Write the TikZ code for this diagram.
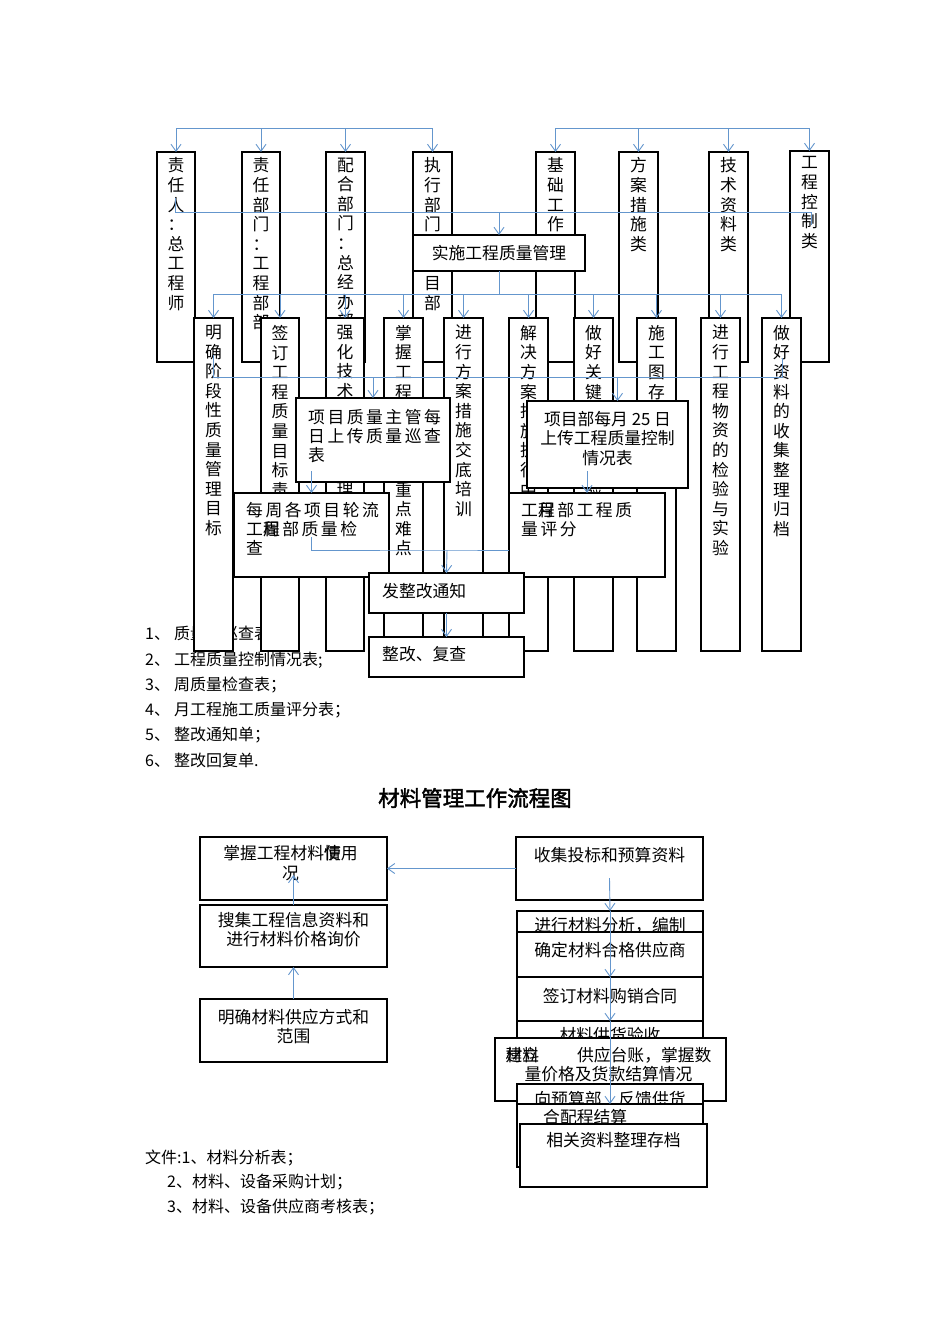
\documentclass[tikz,border=0pt]{standalone}
\usepackage{fontspec}
\setmainfont{Noto Sans CJK SC}
\newfontfamily\widefont[LetterSpace=15]{Noto Sans CJK SC}
\newfontfamily\titlefont[FakeBold=2]{Noto Sans CJK SC}
\usetikzlibrary{arrows.meta,positioning}
\definecolor{linkblue}{RGB}{100,150,205}

\begin{document}
\begin{tikzpicture}[x=1pt, y=-1pt,
  box/.style={draw, line width=1.5pt, fill=white, inner sep=0pt, outer sep=0pt, anchor=north west},
  vtext/.style={inner sep=0pt, align=center, anchor=north, font=\fontsize{16.8}{19.6}\selectfont},
  htext/.style={inner sep=0pt, font=\fontsize{16.8}{19.5}\selectfont},
  listtext/.style={inner sep=0pt, anchor=west, font=\fontsize{16}{19}\selectfont},
  wtext/.style={inner sep=0pt, align=left, anchor=north west, font=\widefont\fontsize{16.8}{18.8}\selectfont},
  link/.style={draw=linkblue, line width=0.9pt},
  linkarrow/.style={link, -{Straight Barb[length=7pt, width=10pt]}}]
  \path[fill=white, use as bounding box] (0,0) rectangle (950,1344);

  % document list of the quality chart
  \node[listtext] (doc1) at (145,634) {1、\kern4pt 质量日巡查表；};
  \node[listtext] (doc2) at (145,660) {2、\kern4pt 工程质量控制情况表;};
  \node[listtext] (doc3) at (145,685) {3、\kern4pt 周质量检查表；};
  \node[listtext] (doc4) at (145,710) {4、\kern4pt 月工程施工质量评分表；};
  \node[listtext] (doc5) at (145,735) {5、\kern4pt 整改通知单；};
  \node[listtext] (doc6) at (145,760) {6、\kern4pt 整改回复单.};

  % top row
  \node[box, minimum width=38pt, minimum height=210pt] (zrr) at (157,152) {};
  \node[box, minimum width=38pt, minimum height=210pt] (zrbm) at (242,152) {};
  \node[box, minimum width=39pt, minimum height=210pt] (phbm) at (326,152) {};
  \node[box, minimum width=39pt, minimum height=210pt] (zxbm) at (413,152) {};
  \node[box, minimum width=39pt, minimum height=210pt] (jcgz) at (536,152) {};
  \node[box, minimum width=39pt, minimum height=210pt] (facs) at (619,152) {};
  \node[box, minimum width=39pt, minimum height=210pt] (jszl) at (709,152) {};
  \node[box, minimum width=39pt, minimum height=211pt] (gckz) at (790,151) {};
  \node[vtext] (zrr-t) at ([yshift=-5.5pt]zrr.north) {责\\任\\人\\：\\总\\工\\程\\师};
  \node[vtext] (zrbm-t) at ([yshift=-5.5pt]zrbm.north) {责\\任\\部\\门\\：\\工\\程\\部\\部};
  \node[vtext] (phbm-t) at ([yshift=-5.5pt]phbm.north) {配\\合\\部\\门\\：\\总\\经\\办\\部};
  \node[vtext] (zxbm-t) at ([yshift=-5.5pt]zxbm.north) {执\\行\\部\\门\\：\\项\\目\\部};
  \node[vtext] (jcgz-t) at ([yshift=-5.5pt]jcgz.north) {基\\础\\工\\作\\类};
  \node[vtext] (facs-t) at ([yshift=-5.5pt]facs.north) {方\\案\\措\\施\\类};
  \node[vtext] (jszl-t) at ([yshift=-5.5pt]jszl.north) {技\\术\\资\\料\\类};
  \node[vtext] (gckz-t) at ([yshift=-5.5pt]gckz.north) {工\\程\\控\\制\\类};

  \coordinate (topbus) at (0,128);
  \draw[link] (zrr.north |- topbus) -- (zxbm.north |- topbus);
  \draw[link] (jcgz.north |- topbus) -- (gckz.north |- topbus);
  \foreach \n in {zrr,zrbm,phbm,zxbm,jcgz,facs,jszl,gckz}
    \draw[linkarrow] (\n.north |- topbus) -- (\n.north);

  % middle bus and the central box
  \coordinate (midbus) at (0,212);
  \coordinate (midL) at (175,198);
  \coordinate (midR) at (811,225);
  \draw[link] (midL) |- (midR |- midbus) -- (midR);
  \node[box, minimum width=172pt, minimum height=36pt] (ss) at (413,235) {};
  \node[htext] (ss-t) at (ss.center) {实施工程质量管理};
  \draw[linkarrow] (ss.north |- midbus) -- (ss.north);

  % second row
  \node[box, minimum width=39pt, minimum height=333pt] (mqjd) at (194,318) {};
  \node[box, minimum width=38pt, minimum height=333pt] (qdmb) at (261,318) {};
  \node[box, minimum width=38pt, minimum height=333pt] (qhjs) at (326,318) {};
  \node[box, minimum width=39pt, minimum height=333pt] (zwzd) at (384,318) {};
  \node[box, minimum width=39pt, minimum height=333pt] (fajd) at (444,318) {};
  \node[box, minimum width=39pt, minimum height=333pt] (jjfa) at (509,318) {};
  \node[box, minimum width=39pt, minimum height=333pt] (gjgx) at (574,318) {};
  \node[box, minimum width=39pt, minimum height=333pt] (sgtd) at (637,318) {};
  \node[box, minimum width=39pt, minimum height=333pt] (wzjy) at (701,318) {};
  \node[box, minimum width=39pt, minimum height=333pt] (zlgd) at (762,318) {};
  \node[vtext] (mqjd-t) at ([yshift=-7pt]mqjd.north) {明\\确\\阶\\段\\性\\质\\量\\管\\理\\目\\标};
  \node[vtext] (qdmb-t) at ([yshift=-7pt]qdmb.north) {签\\订\\工\\程\\质\\量\\目\\标\\责\\任\\书};
  \node[vtext] (qhjs-t) at ([yshift=-7pt]qhjs.north) {强\\化\\技\\术\\~\\~\\~\\管\\理};
  \node[vtext] (zwzd-t) at ([yshift=-7pt]zwzd.north) {掌\\握\\工\\程\\施\\工\\技\\术\\重\\点\\难\\点};
  \node[vtext] (fajd-t) at ([yshift=-7pt]fajd.north) {进\\行\\方\\案\\措\\施\\交\\底\\培\\训};
  \node[vtext] (jjfa-t) at ([yshift=-7pt]jjfa.north) {解\\决\\方\\案\\措\\施\\执\\行\\中\\的\\问\\题};
  \node[vtext] (gjgx-t) at ([yshift=-7pt]gjgx.north) {做\\好\\关\\键\\工\\序\\的\\检\\验};
  \node[vtext] (sgtd-t) at ([yshift=-7pt]sgtd.north) {施\\工\\图\\存\\档};
  \node[vtext] (wzjy-t) at ([yshift=-7pt]wzjy.north) {进\\行\\工\\程\\物\\资\\的\\检\\验\\与\\实\\验};
  \node[vtext] (zlgd-t) at ([yshift=-7pt]zlgd.north) {做\\好\\资\\料\\的\\收\\集\\整\\理\\归\\档};

  \coordinate (taskbus) at (0,294);
  \draw[link] (ss.south) -- (ss.south |- taskbus);
  \draw[link] (mqjd.north |- taskbus) -- (zlgd.north |- taskbus);
  \foreach \n in {mqjd,qdmb,qhjs,zwzd,fajd,jjfa,gjgx,sgtd,wzjy,zlgd}
    \draw[linkarrow] (\n.north |- taskbus) -- (\n.north);

  % checking boxes
  \node[box, minimum width=154pt, minimum height=84pt] (xmzl) at (296,398) {};
  \node[wtext] (xmzl-t) at (308,409) {项目质量主管每\\日上传质量巡查\\表};
  \node[box, minimum width=161pt, minimum height=87pt] (xmby) at (527,401) {};
  \node[htext, align=center, anchor=north] (xmby-t) at ([yshift=-10pt]xmby.north) {项目部每月 25 日\\上传工程质量控制\\情况表};

  \coordinate (checkbus) at (0,377);
  \coordinate (checkL) at (213,355);
  \coordinate (checkR) at (782,358);
  \coordinate (byin) at ([xshift=10pt]xmby.north);
  \draw[link] (checkL) |- (checkR |- checkbus) -- (checkR);
  \draw[linkarrow] (xmzl.north |- checkbus) -- (xmzl.north);
  \draw[linkarrow] (byin |- checkbus) -- (byin);

  \node[box, minimum width=155pt, minimum height=84pt] (mz) at (234,493) {};
  \node[wtext] (mz-t) at (246,502) {每周各项目轮流\\工\rlap{程}周部质量检\\查};
  \node[box, minimum width=156pt, minimum height=84pt] (pf) at (509,493) {};
  \node[wtext] (pf-t) at (521,502) {工\rlap{程}月部工程质\\量评分};
  \draw[linkarrow] ([yshift=11pt]xmzl.south -| mz.north) -- (mz.north);
  \draw[linkarrow] ([yshift=17pt]xmby.south -| pf.north) -- (pf.north);

  % rectification
  \node[box, minimum width=155pt, minimum height=40pt] (fz) at (369,573) {};
  \node[htext, anchor=west] (fz-t) at ([xshift=13pt, yshift=2pt]fz.west) {发整改通知};
  \node[box, minimum width=155pt, minimum height=40pt] (zg) at (369,637) {};
  \node[htext, anchor=west] (zg-t) at ([xshift=13pt, yshift=3pt]zg.west) {整改、复查};
  \coordinate (join) at (447,550);
  \draw[link] ([yshift=40pt]mz.south) |- (join) -- (pf.west |- join);
  \draw[linkarrow] (join) -- (fz.north);
  \draw[linkarrow] (fz.south) -- (zg.north);

  % material management chart
  \node[font=\titlefont\fontsize{21.5}{22}\selectfont, inner sep=0pt] (title) at (475,798) {材料管理工作流程图};

  \node[box, minimum width=187pt, minimum height=63pt] (zwcl) at (200,837) {};
  \node[htext, align=center, anchor=north] (zwcl-t) at ([xshift=-3pt, yshift=-8.5pt]zwcl.north) {掌握工程材料\rlap{情}使用\\况};
  \node[box, minimum width=187pt, minimum height=62pt] (sjxx) at (200,905) {};
  \node[htext, align=center, anchor=north] (sjxx-t) at ([yshift=-7pt]sjxx.north) {搜集工程信息资料和\\进行材料价格询价};
  \node[box, minimum width=187pt, minimum height=63pt] (mqgy) at (200,999) {};
  \node[htext, align=center, anchor=north] (mqgy-t) at ([yshift=-10pt]mqgy.north) {明确材料供应方式和\\范围};

  \node[box, minimum width=187pt, minimum height=63pt] (sjtb) at (516,837) {};
  \node[htext, anchor=north] (sjtb-t) at ([yshift=-9.6pt]sjtb.north) {收集投标和预算资料};
  \node[box, minimum width=186pt, minimum height=50pt] (fx) at (517,911) {};
  \node[htext, anchor=north] (fx-t) at ([yshift=-6pt]fx.north) {进行材料分析，编制};
  \node[box, minimum width=186pt, minimum height=45pt] (qdgy) at (517,932) {};
  \node[htext, anchor=north] (qdgy-t) at ([yshift=-10pt]qdgy.north) {确定材料合格供应商};
  \node[box, minimum width=186pt, minimum height=44pt] (qyht) at (517,977) {};
  \node[htext, anchor=north] (qyht-t) at ([yshift=-11pt]qyht.north) {签订材料购销合同};
  \node[box, minimum width=186pt, minimum height=50pt] (ys) at (517,1021) {};
  \node[htext, anchor=north] (ys-t) at ([yshift=-6pt]ys.north) {材料供货验收};
  \node[box, minimum width=231pt, minimum height=63pt] (tz) at (495,1038) {};
  \node[htext, align=center, anchor=north] (tz-t) at ([xshift=-2pt, yshift=-9pt]tz.north) {\rlap{建立}材料\hspace{38pt}供应台账，掌握数\\量价格及货款结算情况};
  \node[box, minimum width=186pt, minimum height=46pt] (fk) at (517,1084) {};
  \node[htext, anchor=north] (fk-t) at ([yshift=-7pt]fk.north) {向预算部\quad 反馈供货};
  \node[box, minimum width=186pt, minimum height=63pt] (js) at (517,1104) {};
  \node[htext, anchor=west] (js-t) at (543,1117) {合配程结算};
  \node[box, minimum width=187pt, minimum height=63pt] (cd) at (520,1124) {};
  \node[htext, anchor=north] (cd-t) at ([yshift=-8pt]cd.north) {相关资料整理存档};

  \draw[linkarrow] (sjtb.west) -- (zwcl.east);
  \draw[linkarrow] (sjxx.north) -- ([yshift=30pt]sjxx.north);
  \draw[linkarrow] (mqgy.north) -- (sjxx.south);
  \draw[linkarrow] ([yshift=22pt]sjtb.south) -- (fx.north);
  \draw[linkarrow] (fx.north) -- (qyht.north);
  \draw[linkarrow] (qyht.north) -- (ys.north);
  \draw[linkarrow] (ys.north) -- (js.north);

  \node[listtext] (file1) at (145,1158) {文件:1、材料分析表；};
  \node[listtext] (file2) at (167,1182) {2、材料、设备采购计划；};
  \node[listtext] (file3) at (167,1207) {3、材料、设备供应商考核表；};
\end{tikzpicture}
\end{document}
